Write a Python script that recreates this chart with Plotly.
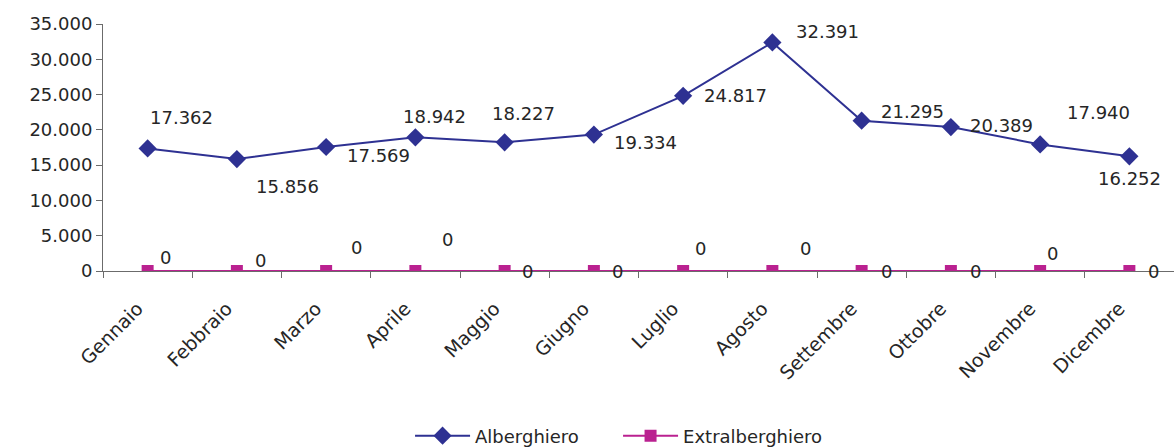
import plotly.graph_objects as go

# Monthly values
mesi = ["Gennaio", "Febbraio", "Marzo", "Aprile", "Maggio", "Giugno",
        "Luglio", "Agosto", "Settembre", "Ottobre", "Novembre", "Dicembre"]
alberghiero = [17362, 15856, 17569, 18942, 18227, 19334,
               24817, 32391, 21295, 20389, 17940, 16252]
extralberghiero = [0, 0, 0, 0, 0, 0, 0, 0, 0, 0, 0, 0]

y_ticks = [0, 5000, 10000, 15000, 20000, 25000, 30000, 35000]

BLUE = "#2E3192"
MAGENTA = "#BA2190"
TEXT = "#262626"
AXIS = "#6b6b6b"
FONT = "DejaVu Sans"

# pixel offsets of each value label relative to its point
off_alb = [(34, 31), (51, -27), (52, -8), (19, 21), (19, 29), (52, -8),
           (52, 0), (55, 11), (51, 9), (51, 2), (58, 32), (0, -22)]
off_ext = [(18, 14), (24, 11), (30, 24), (32, 32), (23, 0), (24, 0),
           (17, 23), (33, 23), (25, 0), (25, 0), (12, 18), (24, 0)]


def fmt(v):
    return f"{v:,}".replace(",", ".")


fig = go.Figure()
fig.add_trace(go.Scatter(
    x=mesi, y=extralberghiero, name="Extralberghiero", mode="lines+markers",
    line=dict(color=MAGENTA, width=2),
    marker=dict(symbol="square", size=12, color=MAGENTA),
))
fig.add_trace(go.Scatter(
    x=mesi, y=alberghiero, name="Alberghiero", mode="lines+markers",
    line=dict(color=BLUE, width=2),
    marker=dict(symbol="diamond", size=14, color=BLUE),
))

annotations = []
for series, offs in ((alberghiero, off_alb), (extralberghiero, off_ext)):
    for m, v, (dx, dy) in zip(mesi, series, offs):
        annotations.append(dict(
            x=m, y=v, text=fmt(v), showarrow=False,
            xshift=dx, yshift=dy,
            font=dict(family=FONT, size=18, color=TEXT),
        ))

fig.update_layout(
    width=1174, height=447,
    margin=dict(l=103, r=0, t=24, b=176, autoexpand=False),
    paper_bgcolor="white", plot_bgcolor="white",
    separators=",.",
    font=dict(family=FONT, size=18, color=TEXT),
    showlegend=True,
    legend=dict(orientation="h", x=0.2867, xanchor="left", y=-0.668,
                yanchor="middle", traceorder="reversed", itemwidth=55,
                entrywidth=138,
                font=dict(family=FONT, size=18, color=TEXT)),
    annotations=annotations,
)
fig.update_xaxes(
    type="category", range=[-0.5, 11.5], tickangle=-45, tickson="boundaries",
    ticks="outside", ticklen=6, tickcolor=AXIS,
    showline=True, linecolor=AXIS, linewidth=1,
    showgrid=False, zeroline=False,
    ticklabelstandoff=18, ticklabelshift=-10,
    tickfont=dict(family=FONT, size=19, color=TEXT),
)
fig.update_yaxes(
    range=[0, 35000], tickvals=y_ticks, tickformat=",",
    ticks="outside", ticklen=6, tickcolor=AXIS,
    showline=True, linecolor=AXIS, linewidth=1,
    showgrid=False, zeroline=False,
    tickfont=dict(family=FONT, size=18, color=TEXT),
)

fig.write_html("out.html")
